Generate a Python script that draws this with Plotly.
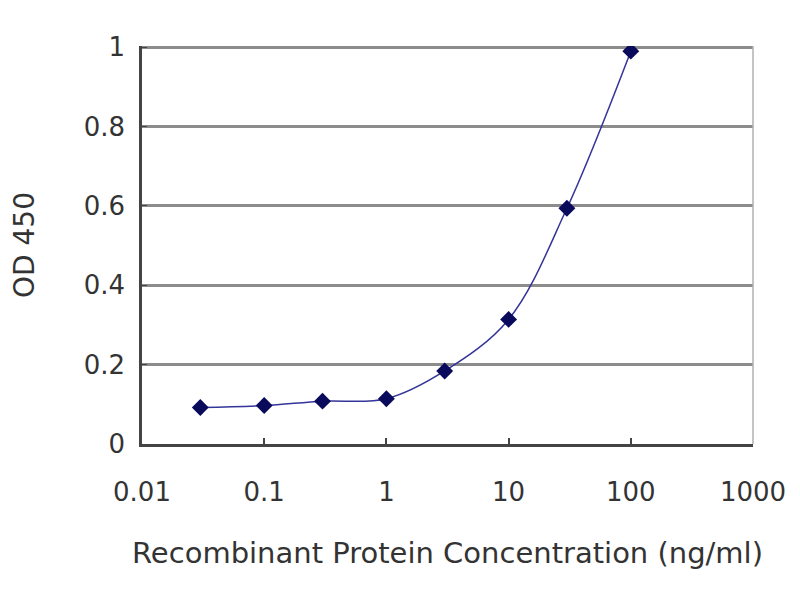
import plotly.graph_objects as go

concentration = [0.03, 0.1, 0.3, 1, 3, 10, 30, 100]
od450 = [0.092, 0.097, 0.108, 0.114, 0.184, 0.314, 0.594, 0.99]

x_ticks = [0.01, 0.1, 1, 10, 100, 1000]
x_tick_text = ["0.01", "0.1", "1", "10", "100", "1000"]
y_ticks = [0, 0.2, 0.4, 0.6, 0.8, 1]
y_tick_text = ["0", "0.2", "0.4", "0.6", "0.8", "1"]

fig = go.Figure()

fig.add_trace(go.Scatter(
    x=concentration,
    y=od450,
    mode="lines+markers",
    line=dict(color="#34349a", width=1.5, shape="spline", smoothing=1.0),
    marker=dict(symbol="diamond", size=13, color="#0a0a5c"),
    showlegend=False,
))

fig.update_layout(
    width=800,
    height=600,
    margin=dict(l=134, r=55, t=38, b=164),
    paper_bgcolor="white",
    plot_bgcolor="white",
    font=dict(family="DejaVu Sans, sans-serif", size=26, color="#333333"),
    xaxis=dict(
        type="log",
        range=[-2, 3],
        tickvals=x_ticks,
        ticktext=x_tick_text,
        showgrid=False,
        showline=True,
        linecolor="#444444",
        linewidth=2.5,
        ticks="inside",
        ticklen=6,
        tickcolor="#444444",
        tickwidth=1.5,
        ticklabelstandoff=23,
        zeroline=False,
        automargin=False,
        title=dict(text="Recombinant Protein Concentration (ng/ml)", standoff=37,
                   font=dict(size=29, color="#333333")),
    ),
    yaxis=dict(
        range=[0, 1.003],
        tickvals=y_ticks,
        ticktext=y_tick_text,
        showgrid=True,
        gridcolor="#8c8c8c",
        gridwidth=2.5,
        showline=True,
        linecolor="#444444",
        linewidth=2.5,
        ticks="inside",
        ticklen=5,
        tickcolor="#444444",
        ticklabelstandoff=9,
        zeroline=False,
        automargin=False,
        title=dict(text="OD 450", standoff=58, font=dict(size=28, color="#333333")),
    ),
    shapes=[dict(type="line", xref="paper", yref="paper", x0=1, x1=1, y0=0, y1=1,
                 line=dict(color="#b0b0b0", width=1.5))],
)

fig.write_html("out.html")
